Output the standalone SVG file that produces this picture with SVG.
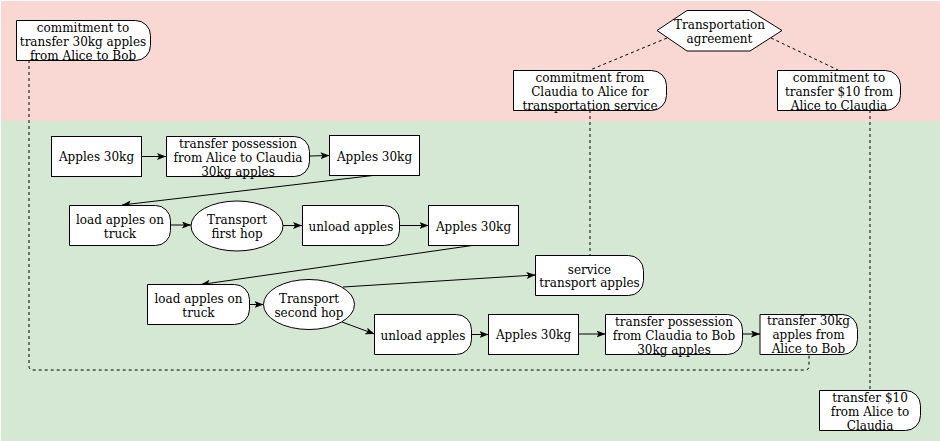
<svg xmlns="http://www.w3.org/2000/svg" width="940" height="441" viewBox="0 0 940 441">
<defs>
<style>
.n{fill:#fff;stroke:#000;stroke-width:1}
.t{font-family:"DejaVu Serif",serif;font-size:12px;fill:#000;text-anchor:middle}
.e{fill:none;stroke:#000;stroke-width:1}
.d{fill:none;stroke:#000;stroke-width:1;stroke-dasharray:3 3}
</style>
<marker id="ah" markerWidth="10" markerHeight="8" refX="9" refY="3.5" orient="auto" markerUnits="userSpaceOnUse">
<path d="M0,0 L9,3.5 L0,7 L2,3.5 Z" fill="#000"/>
</marker>
</defs>
<rect x="1" y="1" width="939" height="120" fill="#f9d8d4"/>
<rect x="1" y="121" width="939" height="320" fill="#d5e8d4"/>

<g id="connectors">
<path class="d" d="M29,60 V366 Q29,370 33,370 H805 Q809,370 809,366 V354"/>
<path class="d" d="M590,110 V255"/>
<path class="d" d="M870,110 V390"/>
<path class="d" d="M667,38 L590,70"/>
<path class="d" d="M771,38 L838,70"/>
<path class="e" marker-end="url(#ah)" d="M141.5,156.5 L166,156.5"/>
<path class="e" marker-end="url(#ah)" d="M310,156 L329.5,155.5"/>
<path class="e" marker-end="url(#ah)" d="M373,175.5 L122,205"/>
<path class="e" marker-end="url(#ah)" d="M171,225 L191,225"/>
<path class="e" marker-end="url(#ah)" d="M283,225.5 L302,225.5"/>
<path class="e" marker-end="url(#ah)" d="M400,225.5 L428.5,225.5"/>
<path class="e" marker-end="url(#ah)" d="M472,245.5 L201,284.5"/>
<path class="e" marker-end="url(#ah)" d="M249.5,304.5 L263.5,304.5"/>
<path class="e" marker-end="url(#ah)" d="M343,287 L535.5,275"/>
<path class="e" marker-end="url(#ah)" d="M342,322 L374.5,334"/>
<path class="e" marker-end="url(#ah)" d="M472,334.5 L488.5,334.5"/>
<path class="e" marker-end="url(#ah)" d="M578.5,334 L605.5,334"/>
<path class="e" marker-end="url(#ah)" d="M743,334 L760,334"/>
</g>

<g id="n1">
<path class="n" d="M16.5,20.5 H135.5 A15,15 0 0 1 150.5,35.5 V45.5 A15,15 0 0 1 135.5,60.5 H16.5 Z"/>
<text class="t" x="83" y="32">commitment to</text>
<text class="t" x="83" y="46">transfer 30kg apples</text>
<text class="t" x="83" y="60">from Alice to Bob</text>
</g>
<g id="hex">
<polygon class="n" points="657,30.5 687,10.5 750,10.5 782,30.5 750,51 687,51"/>
<text class="t" x="719.5" y="29">Transportation</text>
<text class="t" x="719.5" y="43">agreement</text>
</g>
<g id="n3">
<path class="n" d="M513.5,70.5 H651.5 A15,15 0 0 1 666.5,85.5 V95.5 A15,15 0 0 1 651.5,110.5 H513.5 Z"/>
<text class="t" x="590" y="82">commitment from</text>
<text class="t" x="590" y="96">Claudia to Alice for</text>
<text class="t" x="590" y="110">transportation service</text>
</g>
<g id="n4">
<path class="n" d="M777.5,70.5 H885.5 A15,15 0 0 1 900.5,85.5 V95.5 A15,15 0 0 1 885.5,110.5 H777.5 Z"/>
<text class="t" x="839" y="82">commitment to</text>
<text class="t" x="839" y="96">transfer $10 from</text>
<text class="t" x="839" y="110">Alice to Claudia</text>
</g>
<g id="n5">
<rect class="n" x="51.5" y="136.5" width="90" height="40"/>
<text class="t" x="96.5" y="161">Apples 30kg</text>
</g>
<g id="n6">
<path class="n" d="M166.5,136.5 H294.5 A15,15 0 0 1 309.5,151.5 V161.5 A15,15 0 0 1 294.5,176.5 H166.5 Z"/>
<text class="t" x="238" y="148">transfer possession</text>
<text class="t" x="238" y="162">from Alice to Claudia</text>
<text class="t" x="238" y="176">30kg apples</text>
</g>
<g id="n7">
<rect class="n" x="329.5" y="135.5" width="90" height="40"/>
<text class="t" x="374.5" y="160.5">Apples 30kg</text>
</g>
<g id="n8">
<path class="n" d="M69.5,205.5 H155.5 A15,15 0 0 1 170.5,220.5 V230.5 A15,15 0 0 1 155.5,245.5 H69.5 Z"/>
<text class="t" x="120" y="224">load apples on</text>
<text class="t" x="120" y="238">truck</text>
</g>
<g id="n9">
<ellipse class="n" cx="237" cy="226" rx="46" ry="25"/>
<text class="t" x="237" y="224">Transport</text>
<text class="t" x="237" y="238">first hop</text>
</g>
<g id="n10">
<path class="n" d="M302.5,205.5 H384.5 A15,15 0 0 1 399.5,220.5 V230.5 A15,15 0 0 1 384.5,245.5 H302.5 Z"/>
<text class="t" x="351" y="230.5">unload apples</text>
</g>
<g id="n11">
<rect class="n" x="428.5" y="205.5" width="90" height="40"/>
<text class="t" x="473.5" y="230.5">Apples 30kg</text>
</g>
<g id="n12">
<path class="n" d="M147.5,284.5 H234.5 A15,15 0 0 1 249.5,299.5 V309.5 A15,15 0 0 1 234.5,324.5 H147.5 Z"/>
<text class="t" x="198.5" y="303">load apples on</text>
<text class="t" x="198.5" y="317">truck</text>
</g>
<g id="n13">
<ellipse class="n" cx="309" cy="304.5" rx="45.5" ry="25"/>
<text class="t" x="309" y="303">Transport</text>
<text class="t" x="309" y="317">second hop</text>
</g>
<g id="n14">
<path class="n" d="M374.5,314.5 H456.5 A15,15 0 0 1 471.5,329.5 V339.5 A15,15 0 0 1 456.5,354.5 H374.5 Z"/>
<text class="t" x="423" y="339.5">unload apples</text>
</g>
<g id="n15">
<path class="n" d="M535.5,255.5 H628.5 A15,15 0 0 1 643.5,270.5 V280.5 A15,15 0 0 1 628.5,295.5 H535.5 Z"/>
<text class="t" x="589.5" y="273.5">service</text>
<text class="t" x="589.5" y="287">transport apples</text>
</g>
<g id="n16">
<rect class="n" x="488.5" y="314.5" width="90" height="40"/>
<text class="t" x="533.5" y="339">Apples 30kg</text>
</g>
<g id="n17">
<path class="n" d="M605.5,314.5 H727.5 A15,15 0 0 1 742.5,329.5 V339.5 A15,15 0 0 1 727.5,354.5 H605.5 Z"/>
<text class="t" x="674" y="325.5">transfer possession</text>
<text class="t" x="674" y="339.5">from Claudia to Bob</text>
<text class="t" x="674" y="353.5">30kg apples</text>
</g>
<g id="n18">
<path class="n" d="M760,314.5 H842.5 A15,15 0 0 1 857.5,329.5 V339.5 A15,15 0 0 1 842.5,354.5 H760 Z"/>
<text class="t" x="808.5" y="324.5">transfer 30kg</text>
<text class="t" x="808.5" y="338.5">apples from</text>
<text class="t" x="808.5" y="352.5">Alice to Bob</text>
</g>
<g id="n19">
<path class="n" d="M819.5,390.5 H905.5 A15,15 0 0 1 920.5,405.5 V415.5 A15,15 0 0 1 905.5,430.5 H819.5 Z"/>
<text class="t" x="870" y="401.5">transfer $10</text>
<text class="t" x="870" y="415.5">from Alice to</text>
<text class="t" x="870" y="429.5">Claudia</text>
</g>
</svg>
